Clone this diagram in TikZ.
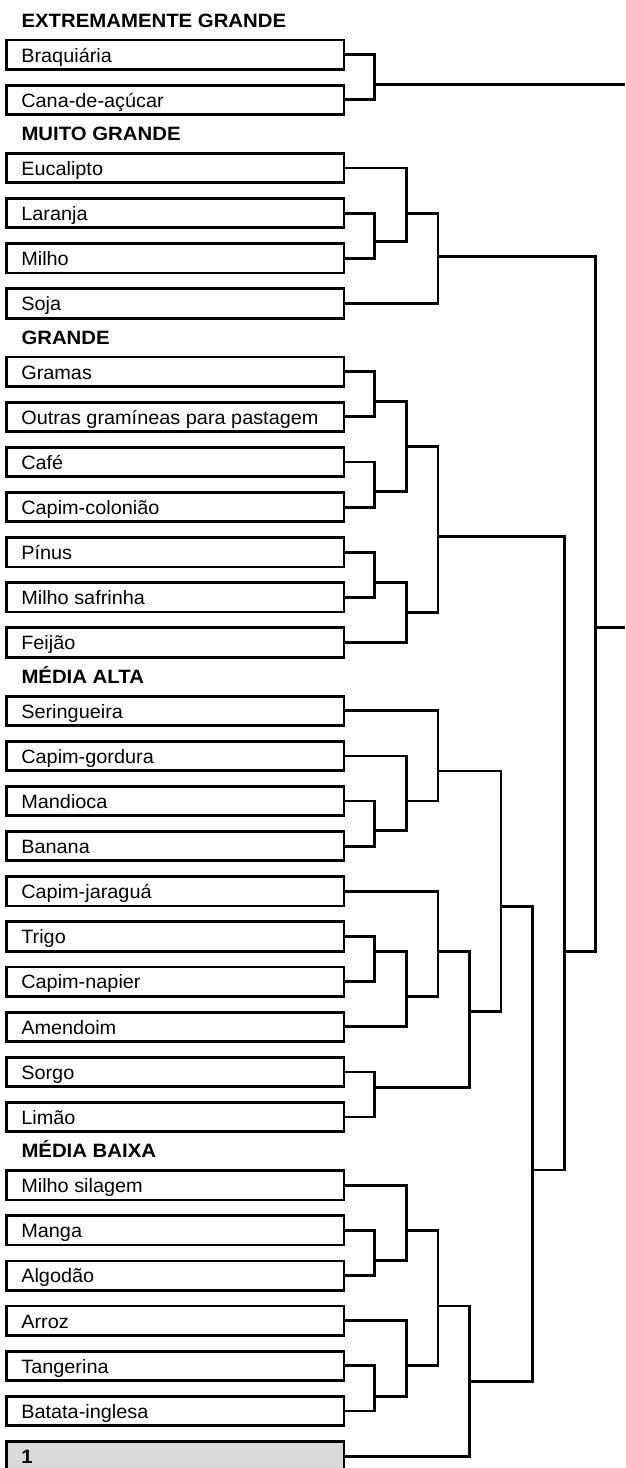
\documentclass[tikz,border=0pt]{standalone}
\usepackage{fontspec}
\setmainfont{Liberation Sans}[FakeStretch=1.03]
\newfontfamily\headfam{Liberation Sans}[FakeStretch=1.055]
\newcommand\cropfont{\fontsize{19.3pt}{22pt}\selectfont}
\newcommand\headfont{\headfam\fontsize{19.3pt}{22pt}\selectfont\bfseries}
% one crop name, left aligned inside its box
\newcommand\lt[1]{\makebox[308.1pt][l]{#1}}
\definecolor{boxgray}{HTML}{D9D9D9}
\begin{document}
\begin{tikzpicture}[x=1pt,y=-1pt,
  leaf/.style={draw, line width=2.8pt, minimum width=337.3pt, minimum height=29.3pt,
    inner xsep=14.6pt, inner ysep=0pt,
    text height=18pt, text depth=3.3pt, font=\cropfont},
  header/.style={anchor=base west, inner sep=0pt, font=\headfont},
  link/.style={line width=2.8pt}]
\useasboundingbox (0,0) rectangle (625,1468);
\clip (0,0) rectangle (625,1468);

% group headings
\node[header] (hExt) at (21.3,27.3) {EXTREMAMENTE GRANDE};
\node[header] (hMuito) at (21.3,140.7) {MUITO GRANDE};
\node[header] (hGrande) at (21.3,344.3) {GRANDE};
\node[header] (hAlta) at (21.3,683.4) {MÉDIA ALTA};
\node[header] (hBaixa) at (21.3,1157.9) {MÉDIA BAIXA};

% crops
\node[leaf] (braq) at (175.35,54.65) {\lt{Braquiária}};
\node[leaf] (cana) at (175.35,99.79) {\lt{Cana-de-açúcar}};
\node[leaf] (euca) at (175.35,168.03) {\lt{Eucalipto}};
\node[leaf] (lara) at (175.35,213.17) {\lt{Laranja}};
\node[leaf] (milho) at (175.35,258.31) {\lt{Milho}};
\node[leaf] (soja) at (175.35,303.45) {\lt{Soja}};
\node[leaf] (gramas) at (175.35,371.69) {\lt{Gramas}};
\node[leaf] (outras) at (175.35,416.83) {\lt{Outras gramíneas para pastagem}};
\node[leaf] (cafe) at (175.35,461.97) {\lt{Café}};
\node[leaf] (colon) at (175.35,507.11) {\lt{Capim-colonião}};
\node[leaf] (pinus) at (175.35,552.25) {\lt{Pínus}};
\node[leaf] (msafr) at (175.35,597.39) {\lt{Milho safrinha}};
\node[leaf] (feijao) at (175.35,642.53) {\lt{Feijão}};
\node[leaf] (sering) at (175.35,710.77) {\lt{Seringueira}};
\node[leaf] (gordura) at (175.35,755.91) {\lt{Capim-gordura}};
\node[leaf] (mandioca) at (175.35,801.05) {\lt{Mandioca}};
\node[leaf] (banana) at (175.35,846.19) {\lt{Banana}};
\node[leaf] (jaragua) at (175.35,891.33) {\lt{Capim-jaraguá}};
\node[leaf] (trigo) at (175.35,936.47) {\lt{Trigo}};
\node[leaf] (napier) at (175.35,981.61) {\lt{Capim-napier}};
\node[leaf] (amend) at (175.35,1026.75) {\lt{Amendoim}};
\node[leaf] (sorgo) at (175.35,1071.89) {\lt{Sorgo}};
\node[leaf] (limao) at (175.35,1117.03) {\lt{Limão}};
\node[leaf] (msilag) at (175.35,1185.27) {\lt{Milho silagem}};
\node[leaf] (manga) at (175.35,1230.41) {\lt{Manga}};
\node[leaf] (algodao) at (175.35,1275.55) {\lt{Algodão}};
\node[leaf] (arroz) at (175.35,1320.69) {\lt{Arroz}};
\node[leaf] (tanger) at (175.35,1365.83) {\lt{Tangerina}};
\node[leaf] (batata) at (175.35,1410.97) {\lt{Batata-inglesa}};
\node[leaf, fill=boxgray, font=\headfont] (um) at (175.35,1456.11) {\lt{1}};

% merge points (x = linkage level, y = joining line)
\coordinate (edgeR) at (625,0);
\coordinate (A1) at (374.8,84.3);
\coordinate (B1) at (374.8,241.7);
\coordinate (B2) at (406.35,213.17);
\coordinate (B3) at (437.9,256.7);
\coordinate (C1) at (374.8,401.7);
\coordinate (C2) at (374.8,491.7);
\coordinate (C3) at (406.35,446.7);
\coordinate (C4) at (374.8,582.7);
\coordinate (C5) at (406.35,612.7);
\coordinate (C6) at (437.9,536.7);
\coordinate (D1) at (374.8,830.7);
\coordinate (D2) at (406.35,801.05);
\coordinate (D3) at (437.9,771);
\coordinate (D4) at (374.8,951.7);
\coordinate (D5) at (406.35,996.7);
\coordinate (D6) at (437.9,951.7);
\coordinate (D7) at (374.8,1087.3);
\coordinate (D8) at (469.45,1011.7);
\coordinate (D9) at (501.0,906.7);
\coordinate (E1) at (374.8,1260.7);
\coordinate (E2) at (406.35,1230.41);
\coordinate (E3) at (374.8,1396.7);
\coordinate (E4) at (406.35,1365.83);
\coordinate (E5) at (437.9,1306);
\coordinate (F) at (469.45,1381.7);
\coordinate (X) at (532.55,1170);
\coordinate (G) at (564.1,951.7);
\coordinate (R) at (595.65,627.7);

% dendrogram brackets
\draw[link] (braq.east) -| (A1) |- (cana.east);
\draw[link] (A1) -- (A1 -| edgeR);

\draw[link] (lara.east) -| (B1) |- (milho.east);
\draw[link] (euca.east) -| (B2) |- (B1);
\draw[link] (B2) -| (B3) |- (soja.east);

\draw[link] (gramas.east) -| (C1) |- (outras.east);
\draw[link] (cafe.east) -| (C2) |- (colon.east);
\draw[link] (C1) -| (C3) |- (C2);
\draw[link] (pinus.east) -| (C4) |- (msafr.east);
\draw[link] (C4) -| (C5) |- (feijao.east);
\draw[link] (C3) -| (C6) |- (C5);

\draw[link] (mandioca.east) -| (D1) |- (banana.east);
\draw[link] (gordura.east) -| (D2) |- (D1);
\draw[link] (sering.east) -| (D3) |- (D2);
\draw[link] (trigo.east) -| (D4) |- (napier.east);
\draw[link] (D4) -| (D5) |- (amend.east);
\draw[link] (jaragua.east) -| (D6) |- (D5);
\draw[link] (sorgo.east) -| (D7) |- (limao.east);
\draw[link] (D6) -| (D8) |- (D7);
\draw[link] (D3) -| (D9) |- (D8);

\draw[link] (manga.east) -| (E1) |- (algodao.east);
\draw[link] (msilag.east) -| (E2) |- (E1);
\draw[link] (tanger.east) -| (E3) |- (batata.east);
\draw[link] (arroz.east) -| (E4) |- (E3);
\draw[link] (E2) -| (E5) |- (E4);
\draw[link] (E5) -| (F) |- (um.east);

\draw[link] (D9) -| (X) |- (F);
\draw[link] (C6) -| (G) |- (X);
\draw[link] (B3) -| (R) |- (G);
\draw[link] (R) -- (R -| edgeR);
\end{tikzpicture}
\end{document}
